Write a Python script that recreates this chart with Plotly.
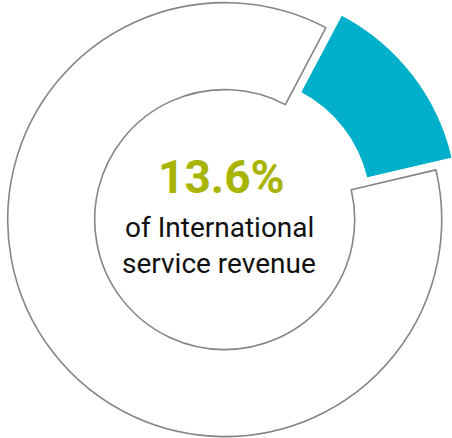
import math
import plotly.graph_objects as go

# Service revenue split: international share vs the rest
segment_labels = ["International service revenue", "Other service revenue"]
segment_values = [13.6, 86.4]
headline = "13.6%"
caption_lines = ["of International", "service revenue"]

# Canvas and ring geometry (pixels, measured from the top-left corner)
W, H = 452, 438
CX, CY = 224.7, 219.6
R_OUT, R_IN = 217.0, 130.0
START_DEG = 27.8          # clockwise from 12 o'clock, where the highlighted segment begins
PULL_PX = 20.0            # how far the highlighted segment is pushed out

TEAL = "#00B0CA"
GREEN = "#A8B400"
GREY = "#858585"
FONT = "Roboto"

share = segment_values[0] / sum(segment_values)
span_deg = share * 360.0
mid_deg = START_DEG + span_deg / 2.0
hole = R_IN / R_OUT

fig = go.Figure()

# Outlined remainder of the ring; the highlighted slice is left transparent here
fig.add_trace(go.Pie(
    labels=segment_labels,
    values=segment_values,
    sort=False,
    direction="clockwise",
    rotation=START_DEG,
    hole=hole,
    marker=dict(
        colors=["rgba(0,0,0,0)", "white"],
        line=dict(color=["rgba(0,0,0,0)", GREY], width=[0, 1.6]),
    ),
    textinfo="none",
    hoverinfo="label+percent",
    showlegend=False,
    domain=dict(
        x=[(CX - R_OUT) / W, (CX + R_OUT) / W],
        y=[1 - (CY + R_OUT) / H, 1 - (CY - R_OUT) / H],
    ),
))

# Highlighted segment, drawn on a polar sector whose centre is shifted outwards
pcx = CX + PULL_PX * math.sin(math.radians(mid_deg))
pcy = CY - PULL_PX * math.cos(math.radians(mid_deg))
a0 = 90.0 - (START_DEG + span_deg)   # sector angles: counter-clockwise from 3 o'clock
a1 = 90.0 - START_DEG
bx1 = max(math.cos(math.radians(a0)), math.cos(math.radians(a1)))
by1 = max(math.sin(math.radians(a0)), math.sin(math.radians(a1)))

fig.add_trace(go.Barpolar(
    r=[1.0],
    base=[0.0],
    theta=[mid_deg],
    width=[span_deg],
    marker=dict(color=TEAL, line=dict(width=0)),
    name=segment_labels[0],
    hovertext=[f"{segment_values[0]}%"],
    showlegend=False,
    subplot="polar",
))

fig.update_layout(
    width=W,
    height=H,
    margin=dict(l=0, r=0, t=0, b=0),
    paper_bgcolor="white",
    plot_bgcolor="white",
    polar=dict(
        domain=dict(
            x=[pcx / W, (pcx + R_OUT * bx1) / W],
            y=[1 - pcy / H, 1 - (pcy - R_OUT * by1) / H],
        ),
        sector=[a0, a1],
        hole=hole,
        bgcolor="rgba(0,0,0,0)",
        angularaxis=dict(visible=False, direction="clockwise", rotation=90,
                         showgrid=False, showline=False, showticklabels=False, ticks=""),
        radialaxis=dict(visible=False, range=[0, 1],
                        showgrid=False, showline=False, showticklabels=False, ticks=""),
    ),
)

# Centre text
fig.add_annotation(
    text=f"<b>{headline}</b>", x=221 / W, y=1 - 177.3 / H, xref="paper", yref="paper",
    xanchor="center", yanchor="middle", showarrow=False,
    font=dict(family=FONT, size=46, color=GREEN),
)
for txt, ymid in zip(caption_lines, [227.4, 263.4]):
    fig.add_annotation(
        text=txt, x=219 / W, y=1 - ymid / H, xref="paper", yref="paper",
        xanchor="center", yanchor="middle", showarrow=False,
        font=dict(family=FONT, size=28, color="#111111"),
    )

fig.write_html("out.html")
